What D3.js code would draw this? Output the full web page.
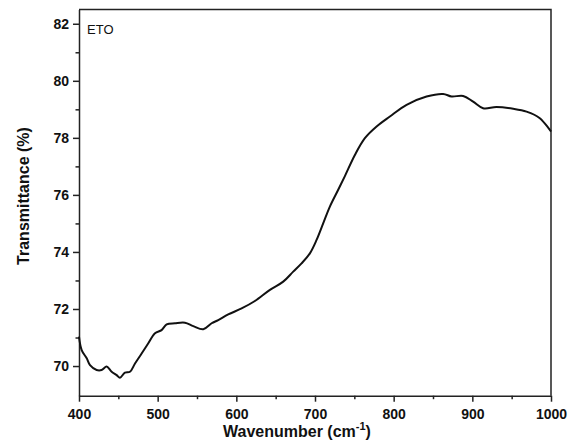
<!DOCTYPE html>
<html>
<head>
<meta charset="utf-8">
<script src="https://cdn.jsdelivr.net/npm/d3@7"></script>
<style>
  html, body { margin: 0; padding: 0; background: #fff; }
  svg { display: block; }
  text { font-family: "Liberation Sans", Arial, sans-serif; }
</style>
</head>
<body>
<svg id="chart" width="568" height="445"></svg>
<script>
// Data
const wavenumber = [400, 403.4, 409.8, 414, 422.4, 428.8, 435.2, 441.5, 447.9, 452.1, 458.4, 464.8, 471.2, 479.6, 488.1, 496.6, 505, 511.4, 522, 534.7, 545.3, 558, 568.6, 577, 589.7, 606.7, 623.6, 642.7, 659.6, 672.3, 682.9, 693.5, 702, 710.4, 718.9, 729.5, 738, 750.7, 763.4, 778.3, 795.2, 816.4, 841.8, 862.9, 873.6, 888.3, 901, 913.7, 930.7, 951.9, 968.9, 985.8, 1000];
const transmittance = [71.03, 70.56, 70.27, 70.03, 69.86, 69.86, 69.98, 69.8, 69.68, 69.59, 69.77, 69.8, 70.09, 70.44, 70.8, 71.15, 71.26, 71.46, 71.5, 71.52, 71.4, 71.29, 71.5, 71.61, 71.81, 72.02, 72.28, 72.67, 72.96, 73.31, 73.6, 73.95, 74.42, 75.0, 75.59, 76.18, 76.66, 77.4, 77.99, 78.4, 78.75, 79.16, 79.45, 79.54, 79.45, 79.47, 79.27, 79.04, 79.08, 79.02, 78.92, 78.69, 78.22];
const xTicks = [400, 500, 600, 700, 800, 900, 1000];
const xMinorTicks = [450, 550, 650, 750, 850, 950];
const yTicks = [70, 72, 74, 76, 78, 80, 82];
const yMinorTicks = [71, 73, 75, 77, 79, 81];
const sampleLabel = "ETO";
const xTitle = "Wavenumber (cm";
const yTitle = "Transmittance (%)";

const svg = d3.select("#chart");
const mLeft = 79, mRight = 551, mTop = 9.5, mBottom = 395.7;

const x = d3.scaleLinear().domain([400, 1000]).range([mLeft, mRight]);
const y = d3.scaleLinear().domain([68.96, 82.5]).range([mBottom, mTop]);

// Frame (top and right)
svg.append("path")
  .attr("d", `M${mLeft},${mTop}H${mRight}V${mBottom}`)
  .attr("fill", "none").attr("stroke", "#222").attr("stroke-width", 1.5);

// X axis
const xAxis = svg.append("g").attr("transform", `translate(0,${mBottom})`)
  .call(d3.axisBottom(x).tickValues(xTicks).tickFormat(d3.format("d")).tickSize(6).tickSizeOuter(0));
svg.append("g").attr("transform", `translate(0,${mBottom})`)
  .call(d3.axisBottom(x).tickValues(xMinorTicks).tickFormat("").tickSize(3.5).tickSizeOuter(0))
  .select(".domain").remove();

// Y axis
const yAxis = svg.append("g").attr("transform", `translate(${mLeft},0)`)
  .call(d3.axisLeft(y).tickValues(yTicks).tickFormat(d3.format("d")).tickSize(6).tickSizeOuter(0));
svg.append("g").attr("transform", `translate(${mLeft},0)`)
  .call(d3.axisLeft(y).tickValues(yMinorTicks).tickFormat("").tickSize(3.5).tickSizeOuter(0))
  .select(".domain").remove();

svg.selectAll(".domain").attr("stroke", "#222").attr("stroke-width", 1.5);
svg.selectAll(".tick line").attr("stroke", "#222").attr("stroke-width", 1.5);
svg.selectAll(".tick text")
  .attr("font-family", "'Liberation Sans', Arial, sans-serif")
  .attr("font-size", 14).attr("font-weight", "bold").attr("fill", "#111");
xAxis.selectAll(".tick text").attr("dy", "1.05em");
yAxis.selectAll(".tick text").attr("x", -10);

// Curve
const line = d3.line().x((d, i) => x(wavenumber[i])).y(d => y(d)).curve(d3.curveCatmullRom);
svg.append("path").datum(transmittance)
  .attr("d", line)
  .attr("fill", "none").attr("stroke", "#111").attr("stroke-width", 2)
  .attr("stroke-linejoin", "round");

// Sample label
svg.append("text").attr("x", 87).attr("y", 33.5)
  .attr("font-size", 13).attr("fill", "#111").text(sampleLabel);

// Axis titles
const xt = svg.append("text").attr("x", 297).attr("y", 437)
  .attr("text-anchor", "middle").attr("font-size", 16).attr("font-weight", "bold").attr("fill", "#111");
xt.append("tspan").text(xTitle);
xt.append("tspan").attr("font-size", 11).attr("dy", -7).text("-1");
xt.append("tspan").attr("dy", 7).text(")");

svg.append("text")
  .attr("transform", "translate(29,196) rotate(-90)")
  .attr("text-anchor", "middle").attr("font-size", 16).attr("font-weight", "bold").attr("fill", "#111")
  .text(yTitle);
</script>
</body>
</html>
